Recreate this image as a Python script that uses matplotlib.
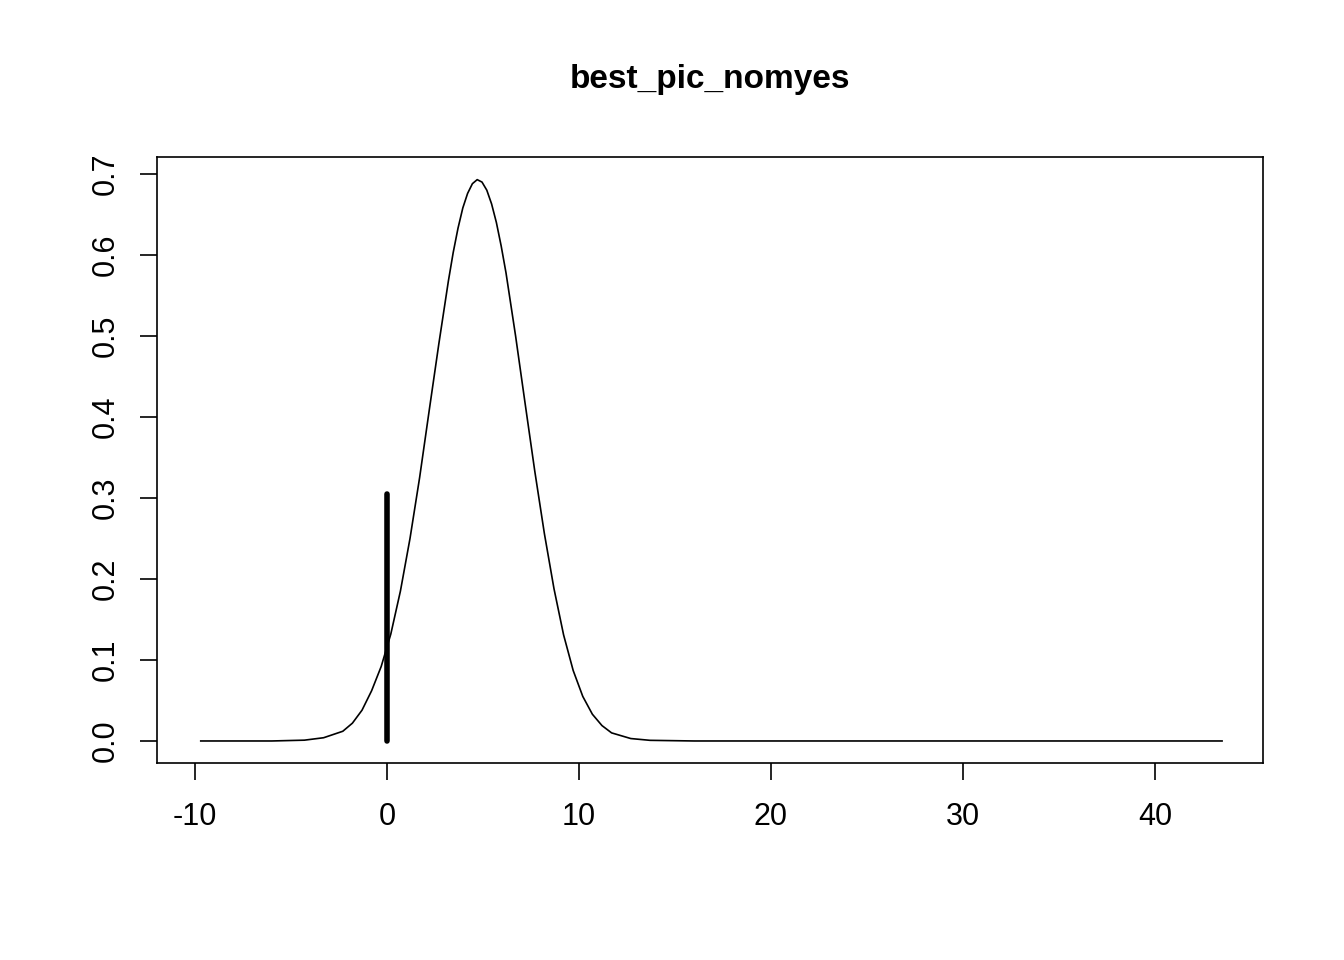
import matplotlib
matplotlib.use("Agg")
import matplotlib.pyplot as plt

plt.rcParams['font.family'] = ['Liberation Sans', 'DejaVu Sans']
plt.rcParams['axes.unicode_minus'] = False

# density curve, values
dens_x = [-9.7, -6, -4.3, -3.3, -2.3, -1.8, -1.3, -0.8, -0.3, 0.2, 0.7, 1.2, 1.7,
          2.2, 2.7, 3.2, 3.45, 3.7, 3.95, 4.2, 4.45, 4.7, 4.95, 5.2, 5.45, 5.7,
          5.95, 6.2, 6.7, 7.2, 7.7, 8.2, 8.7, 9.2, 9.7, 10.2, 10.7, 11.2, 11.7,
          12.7, 13.7, 16, 25, 43.5]
dens_y = [0.0, 0.0, 0.001, 0.004, 0.012, 0.022, 0.038, 0.062, 0.092, 0.132, 0.185,
          0.250, 0.325, 0.408, 0.490, 0.568, 0.603, 0.633, 0.658, 0.676, 0.688,
          0.693, 0.690, 0.680, 0.663, 0.640, 0.611, 0.578, 0.500, 0.416, 0.333,
          0.256, 0.188, 0.131, 0.087, 0.055, 0.033, 0.019, 0.010, 0.003, 0.0008,
          0.0, 0.0, 0.0]
obs_x = [0, 0]
obs_y = [0, 0.305]

fig = plt.figure(figsize=(13.44, 9.6), dpi=100)
ax = fig.add_axes([0.1168, 0.2052, 0.8229, 0.6313])
ax.plot(dens_x, dens_y, color='black', lw=1.2)
ax.plot(obs_x, obs_y, color='black', lw=4, solid_capstyle='round')
ax.set_xlim(-11.98, 45.63)
ax.set_ylim(-0.0272, 0.721)
ax.set_xticks([-10, 0, 10, 20, 30, 40])
ax.set_yticks([0.0, 0.1, 0.2, 0.3, 0.4, 0.5, 0.6, 0.7])
ax.set_yticklabels(['0.0', '0.1', '0.2', '0.3', '0.4', '0.5', '0.6', '0.7'],
                   rotation=90, va='center')
ax.tick_params(direction='out', length=12, width=1.2, labelsize=22)
ax.tick_params(axis='x', pad=16)
ax.tick_params(axis='y', pad=14)
for s in ax.spines.values():
    s.set_linewidth(1.2)
fig.text(0.528, 0.917, 'best_pic_nomyes', ha='center', va='center',
         fontsize=24, fontweight='bold')
fig.savefig('out.png', dpi=100)
